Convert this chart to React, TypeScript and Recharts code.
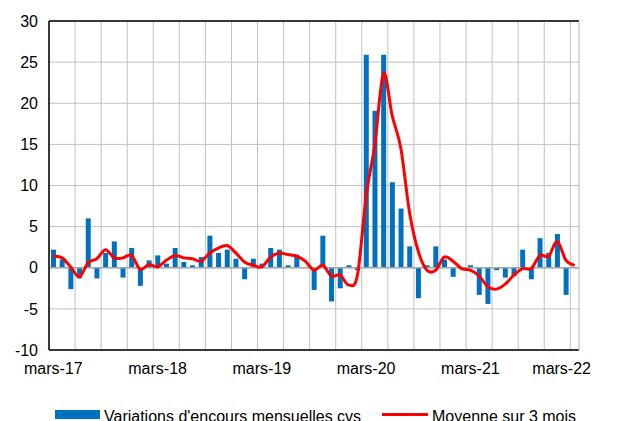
import React from 'react';
import { ComposedChart, Bar, Line, XAxis, YAxis, CartesianGrid, ReferenceLine, Legend } from 'recharts';

const monthNames = ['mars', 'avr.', 'mai', 'juin', 'juil.', 'août', 'sept.', 'oct.', 'nov.', 'déc.', 'janv.', 'févr.'];
const startYear = 17;
const months: string[] = Array.from({ length: 61 }, (_, i) => {
  const yr = startYear + Math.floor((i + 2) / 12);
  return `${monthNames[i % 12]}-${yr}`;
});

const variations = [
  2.2, 1.0, -2.6, -1.3, 6.0, -1.3, 1.8, 3.2, -1.2, 2.4,
  -2.2, 0.9, 1.5, 0.5, 2.4, 0.7, 0.3, 1.3, 3.9, 1.8,
  2.2, 1.1, -1.4, 1.1, 0.5, 2.4, 2.2, 0.3, 1.6, 0.1,
  -2.7, 3.9, -4.1, -2.5, 0.3, -0.3, 25.9, 19.1, 25.9, 10.4,
  7.2, 2.6, -3.7, 0.3, 2.6, 1.0, -1.1, -0.2, 0.3, -3.3,
  -4.4, -0.3, -1.2, -1.0, 2.2, -1.4, 3.6, 1.8, 4.1, -3.3,
  0.1,
];

const moyenne = [
  1.4, 1.2, 0.1, -1.1, 0.6, 1.1, 2.2, 1.2, 1.2, 1.5,
  -0.2, 0.4, 0.1, 0.9, 1.5, 1.2, 1.1, 0.8, 1.8, 2.4,
  2.7, 1.8, 0.7, 0.3, 0.1, 1.3, 1.8, 1.6, 1.4, 0.8,
  -0.3, 0.3, -1.0, -0.9, -2.1, -0.9, 8.7, 15.0, 23.6, 18.5,
  14.5, 6.7, 2.0, -0.3, -0.3, 1.3, 0.8, -0.1, -0.3, -1.0,
  -2.3, -2.6, -2.0, -0.9, -0.1, -0.1, 1.5, 1.4, 3.2, 0.9,
  0.3,
];

const yTicks = [-10, -5, 0, 5, 10, 15, 20, 25, 30];

const data = months.map((m, i) => ({ month: m, variation: variations[i], moyenne: moyenne[i] }));

const FONT = '"Liberation Sans", Arial, sans-serif';

// Excel-like smoothed line (Catmull-Rom style Bezier through every point)
function excelCurve(context: any) {
  let pts: [number, number][] = [];
  return {
    areaStart() {},
    areaEnd() {},
    lineStart() {
      pts = [];
    },
    lineEnd() {
      const n = pts.length;
      if (n === 0) return;
      context.moveTo(pts[0][0], pts[0][1]);
      for (let i = 0; i < n - 1; i++) {
        const p0 = pts[i - 1] || pts[i];
        const p1 = pts[i];
        const p2 = pts[i + 1];
        const p3 = pts[i + 2] || p2;
        context.bezierCurveTo(
          p1[0] + (p2[0] - p0[0]) / 6,
          p1[1] + (p2[1] - p0[1]) / 6,
          p2[0] - (p3[0] - p1[0]) / 6,
          p2[1] - (p3[1] - p1[1]) / 6,
          p2[0],
          p2[1]
        );
      }
    },
    point(x: number, y: number) {
      pts.push([+x, +y]);
    },
  };
}

const XTick = (props: any) => {
  const { x, y, payload } = props;
  const isLast = payload.value === months[months.length - 1];
  return (
    <text x={x + (isLast ? -13 : 0)} y={y + 22} textAnchor="middle" fontSize={16} fontFamily={FONT} fill="#000">
      {payload.value}
    </text>
  );
};

const LegendContent = () => (
  <div style={{ position: 'relative', width: 618, height: 41, fontFamily: FONT, fontSize: 16, color: '#000' }}>
    <div style={{ position: 'absolute', left: 55, top: 30, width: 45, height: 9, background: '#0070C0' }} />
    <div style={{ position: 'absolute', left: 104, top: 28, lineHeight: '18px', whiteSpace: 'nowrap' }}>
      Variations d'encours mensuelles cvs
    </div>
    <div style={{ position: 'absolute', left: 382, top: 33, width: 46, height: 3, background: '#FF0000' }} />
    <div style={{ position: 'absolute', left: 432, top: 28, lineHeight: '18px', whiteSpace: 'nowrap' }}>
      Moyenne sur 3 mois
    </div>
  </div>
);

export default function App() {
  return (
    <div style={{ position: 'absolute', left: 0, top: 0, width: 618, height: 421, background: '#fff', overflow: 'hidden' }}>
      <ComposedChart
        width={618}
        height={421}
        data={data}
        margin={{ top: 21, right: 0, bottom: 0, left: 0 }}
      >
        <CartesianGrid
          stroke="#C0C0C0"
          strokeWidth={1}
          horizontal={true}
          vertical={true}
          yAxisId="left"
          verticalCoordinatesGenerator={({ offset }: any) =>
            Array.from({ length: 21 }, (_, k) => offset.left + (offset.width * (3 * k)) / months.length)
          }
        />
        <XAxis
          dataKey="month"
          interval={11}
          height={30}
          tickSize={0}
          tickMargin={2}
          axisLine={{ stroke: '#000', strokeWidth: 1.5 }}
          tickLine={false}
          tick={<XTick />}
        />
        <YAxis
          yAxisId="left"
          orientation="left"
          width={49}
          domain={[-10, 30]}
          ticks={yTicks}
          interval={0}
          tickSize={0}
          tickMargin={11}
          axisLine={{ stroke: '#000', strokeWidth: 1.5 }}
          tickLine={false}
          tick={{ fontSize: 16, fontFamily: FONT, fill: '#000' }}
        />
        <YAxis
          yAxisId="right"
          orientation="right"
          width={39}
          domain={[-10, 30]}
          ticks={yTicks}
          interval={0}
          tickSize={0}
          tickMargin={17}
          axisLine={{ stroke: '#B0B0B0', strokeWidth: 1 }}
          tickLine={false}
          tick={{ fontSize: 16, fontFamily: FONT, fill: '#000', textAnchor: 'start' }}
        />
        <ReferenceLine yAxisId="left" y={30} stroke="#000" strokeWidth={1.5} />
        <Bar yAxisId="left" dataKey="variation" fill="#0070C0" barSize={5} isAnimationActive={false} />
        <ReferenceLine yAxisId="left" y={0} stroke="#A6A6A6" strokeWidth={1.5} />
        <Line
          yAxisId="left"
          type={excelCurve as any}
          dataKey="moyenne"
          stroke="#FF0000"
          strokeWidth={3}
          dot={false}
          activeDot={false}
          isAnimationActive={false}
        />
        <Legend verticalAlign="bottom" content={<LegendContent />} wrapperStyle={{ left: 0, width: 618 }} />
      </ComposedChart>
    </div>
  );
}
